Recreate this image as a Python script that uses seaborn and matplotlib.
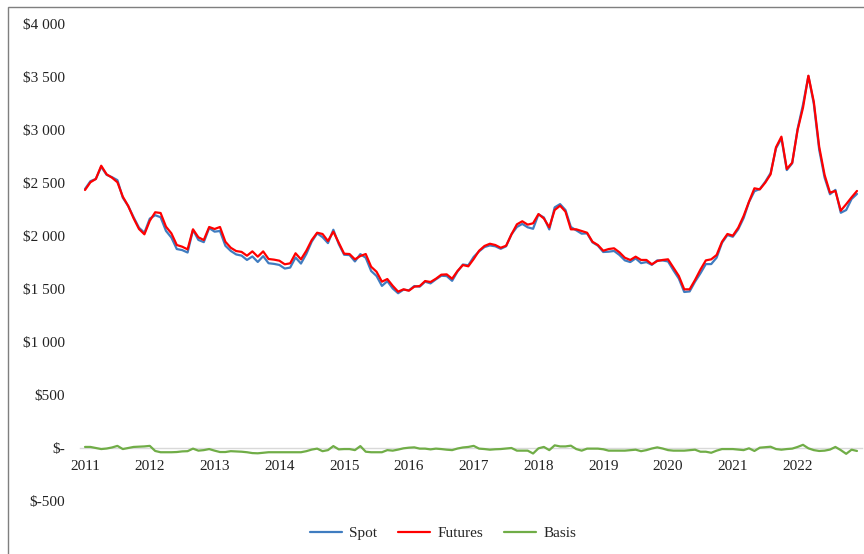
import matplotlib
matplotlib.use("Agg")
import matplotlib.pyplot as plt
import numpy as np
import pandas as pd
import seaborn as sns
from matplotlib.patches import Rectangle
from matplotlib.ticker import FixedLocator, FuncFormatter

sns.set_theme(style='white')
plt.rcParams['font.family'] = ['Liberation Serif', 'DejaVu Serif']

# monthly prices, Jan 2011 - Dec 2022
futures = [2434, 2507, 2538, 2663, 2582, 2550, 2507, 2371, 2283, 2167, 2066, 2016,
           2144, 2224, 2217, 2088, 2025, 1915, 1899, 1874, 2063, 1988, 1962, 2085,
           2066, 2085, 1946, 1889, 1858, 1850, 1814, 1855, 1805, 1855, 1783, 1777,
           1767, 1733, 1742, 1837, 1780, 1861, 1962, 2031, 2019, 1953, 2041, 1937,
           1833, 1830, 1780, 1811, 1830, 1710, 1663, 1569, 1594, 1530, 1475, 1497,
           1484, 1522, 1528, 1575, 1566, 1597, 1635, 1638, 1597, 1670, 1726, 1714,
           1783, 1861, 1906, 1927, 1915, 1889, 1908, 2016, 2110, 2139, 2107, 2120,
           2207, 2165, 2082, 2245, 2286, 2230, 2063, 2063, 2047, 2031, 1946, 1915,
           1861, 1877, 1884, 1846, 1795, 1774, 1805, 1774, 1774, 1733, 1764, 1774,
           1780, 1701, 1623, 1497, 1497, 1585, 1683, 1770, 1780, 1821, 1946, 2019,
           2003, 2078, 2189, 2324, 2450, 2440, 2503, 2582, 2837, 2937, 2632, 2692,
           3000, 3210, 3512, 3267, 2842, 2576, 2409, 2425, 2239, 2300, 2365, 2425]

basis = [10, 10, 0, -10, -5, 5, 20, -10, 0, 10, 12, 15,
         20, -28, -40, -40, -40, -38, -32, -30, -6, -25, -20, -10,
         -25, -38, -38, -30, -32, -35, -40, -48, -50, -45, -40, -40,
         -40, -40, -40, -40, -40, -30, -15, -6, -30, -20, 18, -13,
         -10, -10, -20, 18, -35, -40, -40, -40, -20, -25, -15, -3,
         3, 6, -6, -6, -13, -6, -10, -16, -20, -5, 5, 10,
         20, -6, -10, -16, -12, -10, -5, 0, -25, -25, -25, -52,
         -3, 10, -20, 25, 15, 15, 22, -10, -25, -6, -6, -6,
         -12, -25, -25, -25, -25, -20, -16, -30, -20, -5, 6, -5,
         -20, -25, -25, -25, -20, -16, -35, -35, -45, -25, -10, -10,
         -10, -15, -20, -3, -28, 3, 8, 12, -10, -16, -10, -6,
         10, 30, -3, -20, -28, -25, -15, 10, -20, -55, -16, -28]

spot = [f + b for f, b in zip(futures, basis)]

years = list(range(2011, 2023))
series_names = ['Spot', 'Futures', 'Basis']
colors = {'Spot': '#3f7cc0', 'Futures': '#ff0000', 'Basis': '#70ad47'}

month = np.arange(len(futures))
df = pd.DataFrame({'month': np.tile(month, 3),
                   'value': spot + futures + basis,
                   'series': np.repeat(series_names, len(futures))})

fig = plt.figure(figsize=(8.64, 5.54), dpi=100)
W, H = 864, 554
ax = fig.add_axes([80 / W, (H - 501) / H, 782 / W, 477 / H])

sns.lineplot(data=df, x='month', y='value', hue='series', hue_order=series_names,
             palette=colors, linewidth=1.6, ax=ax, legend=False)

ax.set_xlim(-0.93, 143.93)
ax.set_ylim(-500, 4000)
ax.set_xlabel('')
ax.set_ylabel('')

ax.xaxis.set_major_locator(FixedLocator([12 * k for k in range(len(years))]))
ax.set_xticklabels([str(y) for y in years])
ax.yaxis.set_major_locator(FixedLocator(np.arange(-500, 4001, 500)))
ax.yaxis.set_major_formatter(FuncFormatter(
    lambda v, p: '$-' if v == 0 else '$' + f'{int(v):,}'.replace(',', ' ')))

for side in ['top', 'right', 'left']:
    ax.spines[side].set_visible(False)
ax.spines['bottom'].set_position(('data', 0))
ax.spines['bottom'].set_color('#d9d9d9')
ax.spines['bottom'].set_linewidth(1.0)
ax.spines['bottom'].set_zorder(0)

ax.tick_params(axis='x', length=0, pad=8.5, labelsize=11, colors='#222222')
ax.tick_params(axis='y', length=0, pad=11, labelsize=11, colors='#222222')

handles = [plt.Line2D([], [], color=colors[n], linewidth=1.6) for n in series_names]
fig.legend(handles, series_names, loc='center', bbox_to_anchor=(443 / W, 1 - 533 / H),
           ncol=3, frameon=False, fontsize=11, handlelength=2.1, handletextpad=0.45,
           columnspacing=1.4)

# outer chart border (only left and top edges fall inside the image)
fig.add_artist(Rectangle((7.5 / W, -0.1), 1.2, 1.1 - 6.7 / H, transform=fig.transFigure,
                         fill=False, edgecolor='#7f7f7f', linewidth=1.0, clip_on=False))

fig.savefig('out.png', dpi=100)
